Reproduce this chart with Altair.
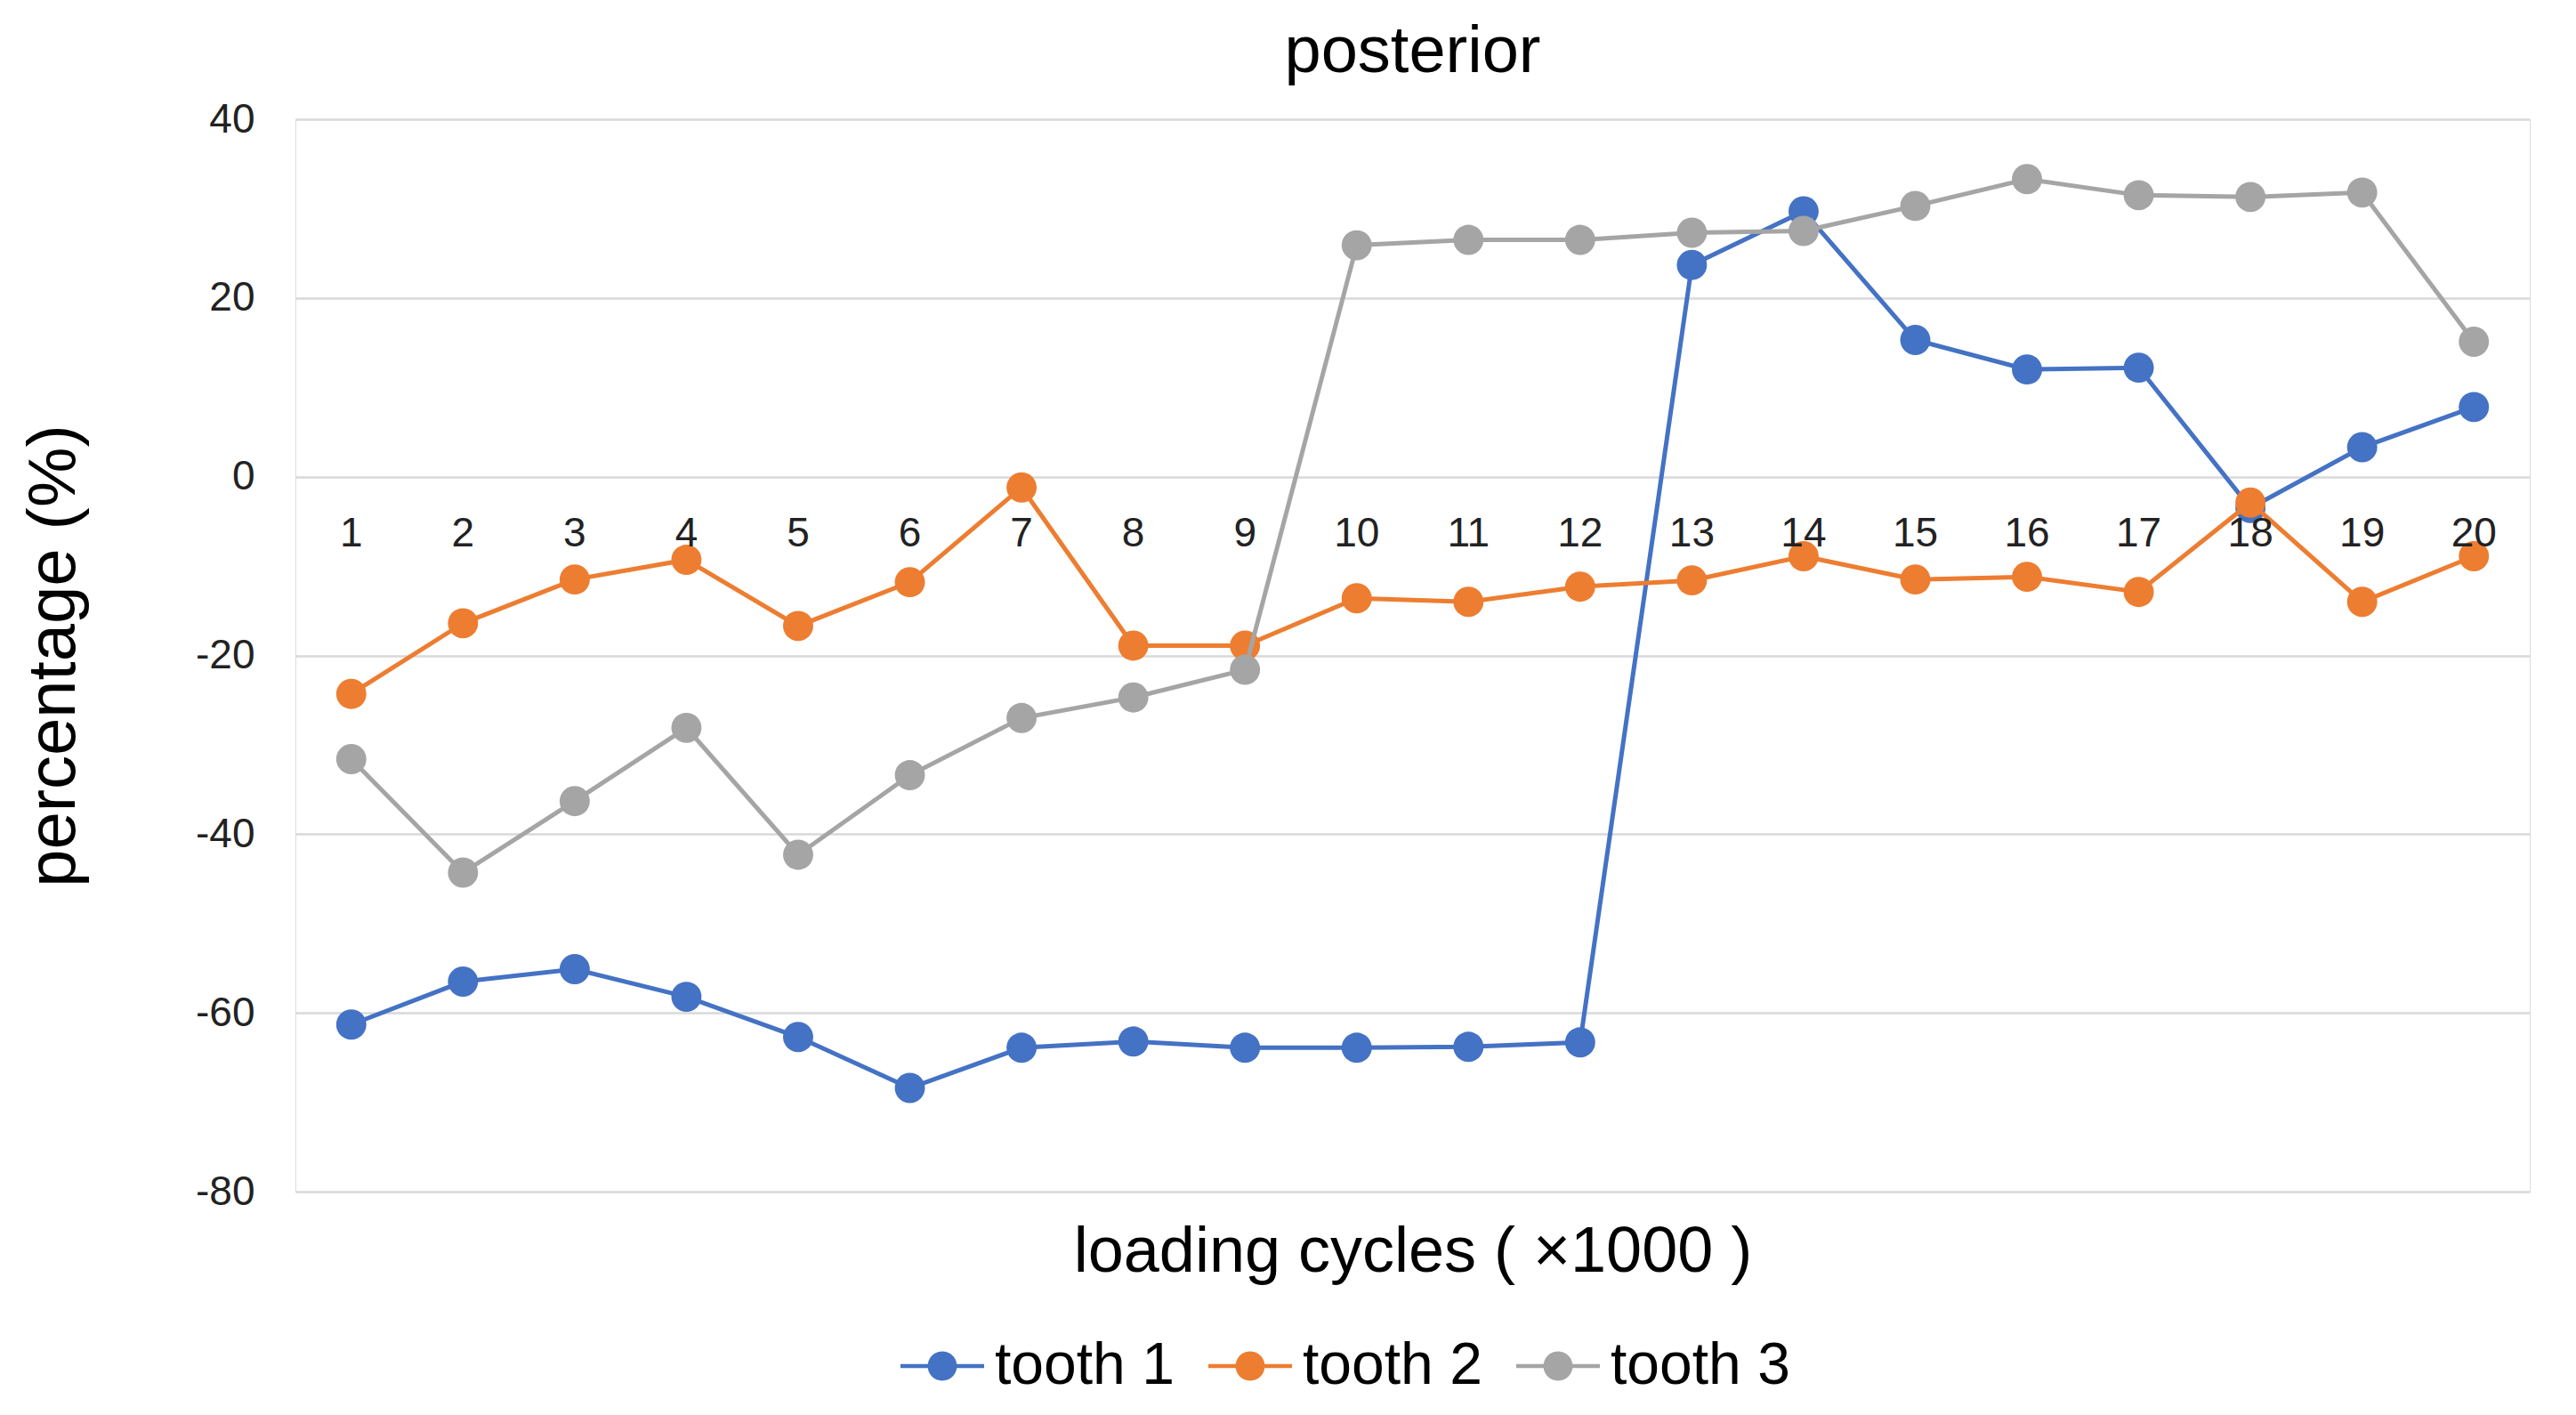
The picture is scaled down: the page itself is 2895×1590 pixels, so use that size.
import altair as alt
import pandas as pd

cycles = list(range(1, 21))
series_names = ["tooth 1", "tooth 2", "tooth 3"]
tooth1 = [-61.3, -56.5, -55.1, -58.2, -62.7, -68.4, -63.9, -63.2, -63.9, -63.9,
          -63.8, -63.3, 23.7, 29.7, 15.3, 12.0, 12.2, -3.5, 3.3, 7.8]
tooth2 = [-24.3, -16.4, -11.5, -9.3, -16.7, -11.8, -1.2, -18.9, -18.9, -13.6,
          -14.0, -12.3, -11.6, -8.9, -11.5, -11.2, -12.9, -2.9, -14.0, -8.9]
tooth3 = [-31.6, -44.3, -36.3, -28.1, -42.3, -33.4, -27.0, -24.7, -21.6, 25.9,
          26.5, 26.5, 27.3, 27.5, 30.3, 33.3, 31.5, 31.3, 31.8, 15.1]
colors = ["#4472C4", "#ED7D31", "#A5A5A5"]
y_ticks = [-80, -60, -40, -20, 0, 20, 40]

rows = []
for name, vals in zip(series_names, [tooth1, tooth2, tooth3]):
    for c, v in zip(cycles, vals):
        rows.append({"cycle": c, "value": v, "series": name})
df = pd.DataFrame(rows)
labels_df = pd.DataFrame({"cycle": cycles, "label": [str(c) for c in cycles]})

FONT = "Liberation Sans, Arial, sans-serif"

legend_path = ("M-1,-0.05H-0.3V0.05H-1Z M0.3,-0.05H1V0.05H0.3Z "
               "M-0.35,0A0.35,0.35 0 1 1 0.35,0A0.35,0.35 0 1 1 -0.35,0Z")

x_enc = alt.X("cycle:Q",
              scale=alt.Scale(domain=[0.5, 20.5], nice=False, zero=False),
              axis=alt.Axis(labels=False, ticks=False, domain=False, grid=False,
                            title="loading cycles ( ×1000 )", titleFontSize=72,
                            titleFont=FONT, titleFontWeight="normal",
                            titleColor="#000000", titlePadding=32))
y_enc = alt.Y("value:Q",
              scale=alt.Scale(domain=[-80, 40], nice=False),
              axis=alt.Axis(values=y_ticks, title="percentage (%)",
                            titleFontSize=76, titleFont=FONT,
                            titleFontWeight="normal", titleColor="#000000",
                            titlePadding=120, labelFontSize=46, labelFont=FONT,
                            labelColor="#222222", labelPadding=46, tickSize=0,
                            ticks=False, domain=False, gridColor="#D9D9D9",
                            gridWidth=2.5,
                            labelExpr="replace(datum.label, '\u2212', '-')"))
color_enc = alt.Color("series:N",
                      scale=alt.Scale(domain=series_names, range=colors),
                      legend=alt.Legend(title=None, orient="none",
                                        legendX=680, legendY=1354,
                                        direction="horizontal",
                                        symbolType=legend_path,
                                        symbolSize=8836, symbolStrokeWidth=0,
                                        symbolOpacity=1, labelFontSize=66,
                                        labelFont=FONT, labelColor="#000000",
                                        labelLimit=0, labelOffset=12,
                                        columnPadding=38))

layers = []
for name in series_names:
    sub = alt.Chart(df).transform_filter(alt.datum.series == name)
    layers.append(sub.mark_line(strokeWidth=5).encode(x=x_enc, y=y_enc, color=color_enc))
    layers.append(sub.mark_point(filled=True, size=1150, opacity=1).encode(
        x=x_enc, y=y_enc, color=color_enc))

tick_text = alt.Chart(labels_df).mark_text(
    fontSize=46, font=FONT, color="#222222", baseline="middle", dy=64
).encode(x=alt.X("cycle:Q"), y=alt.datum(0), text="label:N")

chart = alt.layer(*layers, tick_text).properties(
    width=2511, height=1205,
    title=alt.TitleParams("posterior", fontSize=74, font=FONT,
                          fontWeight="normal", color="#000000",
                          anchor="middle", offset=14),
    autosize=alt.AutoSizeParams(type="none"),
    padding={"left": 324, "top": 126, "right": 30, "bottom": 240},
).configure_view(stroke=None).configure(background="white")

chart.save("out.html", embed_options={"renderer": "svg", "actions": False})
